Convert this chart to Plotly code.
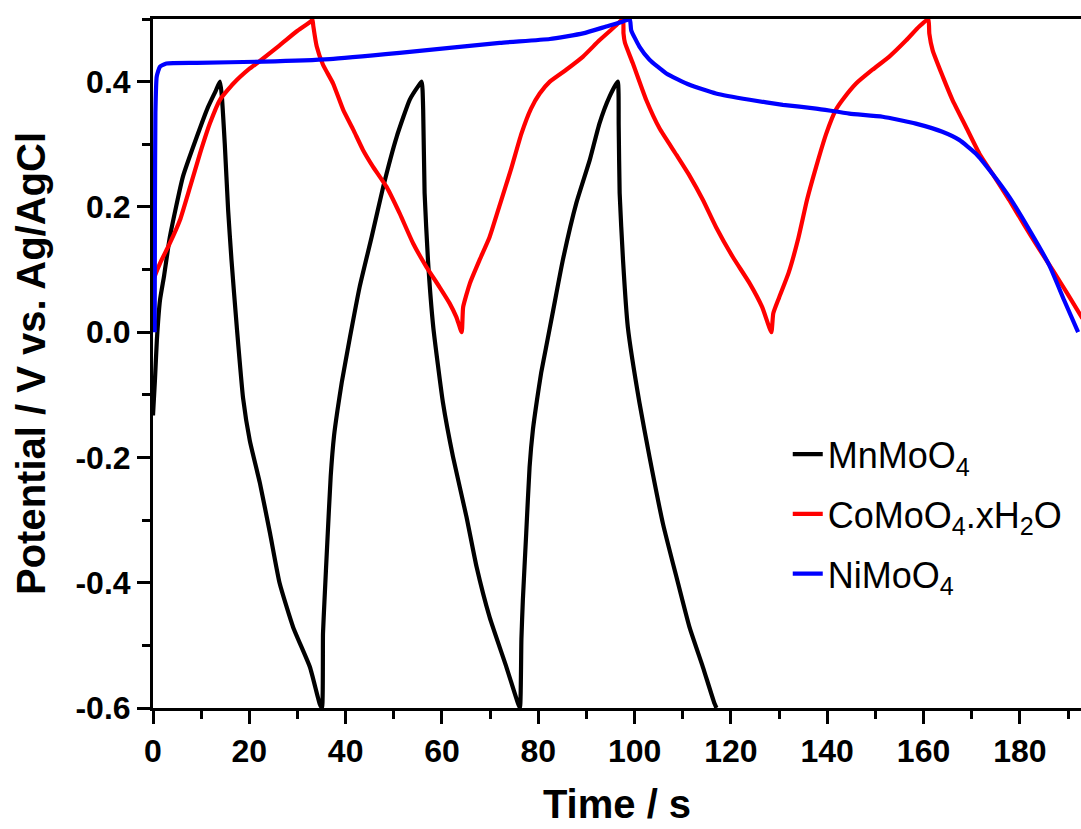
import plotly.graph_objects as go

# Galvanostatic charge/discharge curves (potential vs. Ag/AgCl over time)
mn_time = [0, 0.4, 0.8, 1.45, 2.3, 3.5, 6.2, 9.1, 11.4, 13.0, 13.9,
           14.25, 14.9, 15.6, 16.3, 17.4, 18.7, 20.1, 22.2, 24.3, 26.3, 29.1, 32.6, 34.6, 35.1,
           35.3, 35.6, 36.2, 36.9, 37.6, 38.3, 39.2, 40.9, 42.9, 45.4, 47.8, 50.6, 53.3, 55.0, 55.8,
           56.1, 56.4, 57.1, 58.2, 60.2, 62.3, 65.1, 67.2, 69.9, 73.4, 75.8, 76.2,
           76.5, 76.8, 77.5, 78.2, 78.9, 79.7, 80.6, 81.6, 83.1, 85.1, 87.9, 90.7, 92.7, 94.8, 96.5,
           96.7, 96.9, 97.6, 98.6, 101.0, 103.1, 105.9, 108.7, 111.4, 114.2, 116.6, 117.0]
mn_potential = [-0.133, -0.077, -0.013, 0.051, 0.09, 0.152, 0.248, 0.312, 0.359, 0.385, 0.40,
                0.381, 0.301, 0.195, 0.115, 0.008, -0.105, -0.173, -0.241, -0.321, -0.401, -0.471, -0.535, -0.593, -0.6,
                -0.481, -0.43, -0.335, -0.23, -0.165, -0.125, -0.08, -0.008, 0.072, 0.152, 0.232, 0.312, 0.371, 0.392, 0.40,
                0.355, 0.222, 0.115, 0.008, -0.112, -0.199, -0.295, -0.375, -0.455, -0.535, -0.593, -0.6,
                -0.49, -0.428, -0.321, -0.215, -0.155, -0.11, -0.065, -0.025, 0.035, 0.115, 0.206, 0.275, 0.333, 0.376, 0.40,
                0.33, 0.222, 0.115, 0.008, -0.112, -0.199, -0.306, -0.391, -0.471, -0.535, -0.593, -0.6]

co_time = [0, 0.4, 1.45, 3.5, 5.6, 7.7, 9.75, 11.8, 13.9, 16.7, 20.1, 22.2, 26.3, 29.8, 32.9, 33.1,
           33.3, 34.0, 35.3, 37.4, 39.5, 41.6, 43.6, 45.7, 48.5, 51.2, 54.0, 56.8, 59.5, 61.6, 63.0, 64.1,
           64.4, 65.8, 67.8, 69.9, 72.0, 74.3, 76.5, 78.5, 80.3, 82.4, 85.8, 89.3, 92.7, 96.2, 97.6,
           97.7, 98.0, 99.6, 102.4, 105.2, 108.7, 111.4, 114.2, 116.9, 120.4, 123.9, 126.5, 128.4,
           128.8, 130.0, 132.0, 134.0, 135.8, 137.7, 139.8, 141.8, 143.2, 146.0, 149.4, 152.9, 156.4, 159.1, 161.0,
           161.2, 161.9, 164.0, 166.0, 168.8, 171.6, 174.3, 177.8, 181.0, 184.0, 187.0, 190.0, 193.0]
co_potential = [0.08, 0.09, 0.110, 0.142, 0.179, 0.232, 0.285, 0.333, 0.371, 0.397, 0.421, 0.433, 0.458, 0.480, 0.497, 0.50,
                0.488, 0.456, 0.427, 0.397, 0.355, 0.323, 0.291, 0.264, 0.232, 0.190, 0.142, 0.104, 0.072, 0.046, 0.024, 0.0,
                0.040, 0.078, 0.115, 0.152, 0.203, 0.259, 0.317, 0.357, 0.381, 0.400, 0.419, 0.440, 0.466, 0.490, 0.50,
                0.477, 0.462, 0.43, 0.371, 0.325, 0.283, 0.25, 0.211, 0.168, 0.120, 0.078, 0.04, 0.0,
                0.03, 0.055, 0.095, 0.15, 0.211, 0.264, 0.317, 0.355, 0.371, 0.397, 0.419, 0.440, 0.466, 0.488, 0.50,
                0.477, 0.45, 0.408, 0.371, 0.328, 0.285, 0.253, 0.211, 0.17, 0.133, 0.097, 0.06, 0.022]

ni_time = [0.35, 0.4, 0.5, 0.77, 1.45, 2.8, 9.1, 22.9, 36.7, 51.2, 72.0, 82.4, 89.3, 94.1, 97.6, 99.0,
           99.3, 101.0, 103.1, 106.6, 111.4, 116.9, 123.9, 130.8, 137.7, 144.6, 151.5, 158.4, 163.9, 167.4,
           170.9, 174.3, 177.8, 182.0, 186.1, 189.2, 192.1]
ni_potential = [0.0, 0.2, 0.35, 0.408, 0.424, 0.429, 0.430, 0.432, 0.436, 0.446, 0.462, 0.468, 0.477, 0.488, 0.496, 0.50,
                0.482, 0.456, 0.435, 0.413, 0.395, 0.381, 0.371, 0.363, 0.357, 0.349, 0.344, 0.333, 0.320, 0.307,
                0.285, 0.253, 0.216, 0.163, 0.107, 0.051, 0.0]

series_names = ["MnMoO<sub>4</sub>", "CoMoO<sub>4</sub>.xH<sub>2</sub>O", "NiMoO<sub>4</sub>"]
series_colors = ["#000000", "#ff0000", "#0000ff"]

y_tick_values = [-0.6, -0.4, -0.2, 0.0, 0.2, 0.4]
y_tick_labels = ["-0.6", "-0.4", "-0.2", "0.0", "0.2", "0.4"]
x_tick_values = [0, 20, 40, 60, 80, 100, 120, 140, 160, 180]

fig = go.Figure()
for t, v, name, color in zip([mn_time, co_time, ni_time],
                             [mn_potential, co_potential, ni_potential],
                             series_names, series_colors):
    fig.add_trace(go.Scatter(x=t, y=v, mode="lines", name=name, legendgroup=name,
                             line=dict(color=color, width=4.2, shape="spline", smoothing=0.45)))

font_family = "Liberation Sans, Arial, sans-serif"

fig.update_layout(
    width=1081, height=829,
    margin=dict(l=153, r=0, t=19, b=121),
    plot_bgcolor="white", paper_bgcolor="white",
    font=dict(family=font_family, color="black"),
    showlegend=True,
    legend=dict(
        x=0.684, y=0.412, xanchor="left", yanchor="top",
        bgcolor="rgba(0,0,0,0)", borderwidth=0,
        font=dict(size=36, family=font_family, color="black"),
        itemwidth=30, tracegroupgap=10,
    ),
)

fig.update_xaxes(
    range=[0, 192.7],
    tickvals=x_tick_values,
    ticks="outside", ticklen=13, tickwidth=2.5, tickcolor="black",
    minor=dict(dtick=10, tick0=0, ticks="outside", ticklen=8, tickwidth=2.5, tickcolor="black"),
    showline=True, linecolor="black", linewidth=3, mirror=True,
    showgrid=False, zeroline=False,
    tickfont=dict(size=32, family=font_family, weight="bold"),
    title=dict(text="Time / s", font=dict(size=40, family=font_family, weight="bold"), standoff=22),
)
fig.update_yaxes(
    range=[-0.6, 0.5],
    tickvals=y_tick_values, ticktext=y_tick_labels,
    ticks="outside", ticklen=13, tickwidth=2.5, tickcolor="black",
    minor=dict(dtick=0.1, tick0=-0.6, ticks="outside", ticklen=8, tickwidth=2.5, tickcolor="black"),
    showline=True, linecolor="black", linewidth=3, mirror=False,
    showgrid=False, zeroline=False,
    tickfont=dict(size=32, family=font_family, weight="bold"),
    title=dict(text="Potential / V vs. Ag/AgCl", font=dict(size=40, family=font_family, weight="bold"), standoff=18),
)

fig.write_html("out.html")
